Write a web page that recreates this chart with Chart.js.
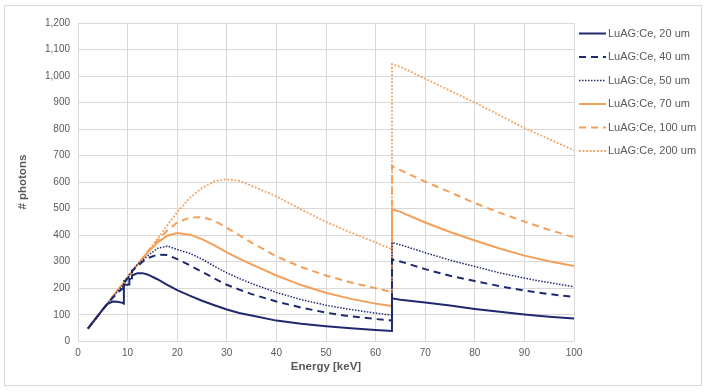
<!DOCTYPE html>
<html>
<head>
<meta charset="utf-8">
<script src="https://cdn.jsdelivr.net/npm/chart.js@4.4.1/dist/chart.umd.min.js"></script>
<style>
  html, body { margin: 0; padding: 0; background: #ffffff; }
  #wrap { position: relative; width: 708px; height: 392px; }
  #frame { position: absolute; left: 4px; top: 5px; width: 698px; height: 381px; border: 1px solid #D9D9D9; box-sizing: border-box; }
  canvas { position: absolute; left: 0; top: 0; }
</style>
</head>
<body>
<div id="wrap">
  <div id="frame"></div>
  <canvas id="c" width="708" height="392"></canvas>
</div>
<script>
// Energy axis (keV), shared by all series
const energy = [2,3,4,5,6,7,8,9,9.24,9.25,10,10.34,10.35,10.87,10.88,12,13,14,16,18,20,22.5,25,27.5,30,32.5,35,40,45,50,55,60,63.3,63.31,65,70,75,80,85,90,95,100];

const luag20  = [48,72,96,120,141,150,149,145,142,213,213,214,234,238,248,257,257,252,234,213,193,172,153,136,120,107,97,78,66,57,49,43,39,162,157,146,135,122,111,101,93,86];
const luag40  = [48,72,96,120,143,164,183,199,205,220,236,242,250,258,266,283,300,313,327,325,310,287,262,237,213,195,178,150,127,108,94,84,78,309,301,272,247,227,208,191,178,167];
const luag50  = [48,72,96,120,144,166,189,209,213,228,240,246,252,260,266,290,305,322,350,359,346,332,310,283,258,237,218,184,157,136,120,106,99,372,364,334,306,282,258,238,221,206];
const luag70  = [48,72,96,120,144,168,192,216,222,222,241,249,249,262,262,289,312,334,372,398,408,402,385,362,335,312,290,248,212,183,160,142,133,498,488,448,412,380,350,323,302,284];
const luag100 = [48,72,96,120,144,168,192,216,222,222,241,249,249,262,262,289,313,337,380,418,448,466,468,455,428,400,372,320,280,248,222,200,186,660,645,602,562,521,485,451,420,392];
const luag200 = [48,72,96,120,144,168,192,216,222,222,241,249,249,262,262,289,313,337,385,437,487,540,578,603,611,605,586,546,497,450,410,373,347,1045,1035,990,945,900,852,804,762,720];

const seriesLabels = ["LuAG:Ce, 20 um","LuAG:Ce, 40 um","LuAG:Ce, 50 um","LuAG:Ce, 70 um","LuAG:Ce, 100 um","LuAG:Ce, 200 um"];
const xTicks = [0,10,20,30,40,50,60,70,80,90,100];
const yTicks = [0,100,200,300,400,500,600,700,800,900,1000,1100,1200];

const NAVY = "#1F2A6E";
const ORANGE = "#F4A05A";
const FONT = "'Liberation Sans', Arial, sans-serif";

function pts(vals) { return energy.map((e, i) => ({ x: e, y: vals[i] })); }

const styles = [
  { c: NAVY,   w: 2,   dash: [] },
  { c: NAVY,   w: 2,   dash: [7, 5] },
  { c: NAVY,   w: 1.5, dash: [1.5, 1.5] },
  { c: ORANGE, w: 2,   dash: [] },
  { c: ORANGE, w: 2,   dash: [7, 5] },
  { c: ORANGE, w: 1.8, dash: [1.8, 1.8] }
];
const allVals = [luag20, luag40, luag50, luag70, luag100, luag200];

const datasets = allVals.map((v, i) => ({
  label: seriesLabels[i],
  data: pts(v),
  borderColor: styles[i].c,
  backgroundColor: styles[i].c,
  borderWidth: styles[i].w,
  borderDash: styles[i].dash,
  pointRadius: 0,
  tension: 0,
  fill: false
}));

const sideLegend = {
  id: 'sideLegend',
  afterDraw(chart) {
    const ctx = chart.ctx;
    ctx.save();
    ctx.font = "11px " + FONT;
    ctx.textBaseline = 'middle';
    ctx.textAlign = 'left';
    chart.data.datasets.forEach((ds, i) => {
      const y = 33.5 + i * 23.5;
      ctx.beginPath();
      ctx.setLineDash(ds.borderDash);
      ctx.lineWidth = ds.borderWidth;
      ctx.strokeStyle = ds.borderColor;
      ctx.moveTo(579, y);
      ctx.lineTo(606, y);
      ctx.stroke();
      ctx.setLineDash([]);
      ctx.fillStyle = '#595959';
      ctx.fillText(ds.label, 608, y);
    });
    ctx.restore();
  }
};

new Chart(document.getElementById('c'), {
  type: 'line',
  data: { datasets },
  options: {
    responsive: false,
    animation: false,
    devicePixelRatio: 1,
    layout: { padding: { left: 0, right: 134, top: 23, bottom: 0 } },
    plugins: { legend: { display: false }, tooltip: { enabled: false } },
    scales: {
      x: {
        type: 'linear', min: 0, max: 100,
        afterBuildTicks: (s) => { s.ticks = xTicks.map(v => ({ value: v })); },
        afterFit: (s) => { s.height = 50.7; },
        grid: { color: '#D9D9D9', drawTicks: false, lineWidth: 1 },
        border: { display: false },
        ticks: { color: '#595959', font: { family: FONT, size: 10 }, padding: 6 },
        title: { display: true, text: 'Energy [keV]', color: '#595959', font: { family: FONT, size: 11.5, weight: 'bold' }, padding: { top: 0, bottom: 18 } }
      },
      y: {
        type: 'linear', min: 0, max: 1200,
        afterBuildTicks: (s) => { s.ticks = yTicks.map(v => ({ value: v })); },
        afterFit: (s) => { s.width = 78; },
        grid: { color: '#D9D9D9', drawTicks: false, lineWidth: 1 },
        border: { display: false },
        ticks: { color: '#595959', font: { family: FONT, size: 10 }, padding: 8 },
        title: { display: true, text: '# photons', color: '#595959', font: { family: FONT, size: 11.5, weight: 'bold' }, padding: { top: 16, bottom: 0 } }
      }
    }
  },
  plugins: [sideLegend]
});
</script>
</body>
</html>
